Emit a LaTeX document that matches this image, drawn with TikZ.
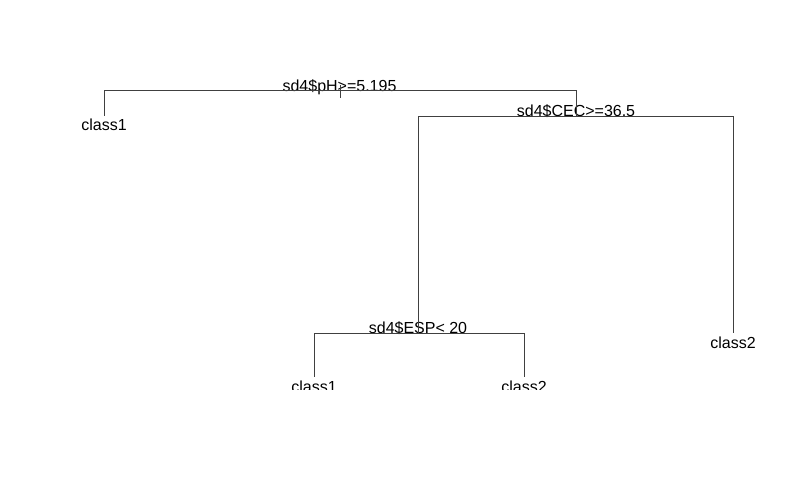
\documentclass[tikz,border=0pt]{standalone}
\usepackage{fontspec}
\setmainfont{Liberation Sans}
\begin{document}
\begin{tikzpicture}[x=1pt,y=-1pt,
  branch/.style={draw=black!75,line width=1pt},
  lbl/.style={anchor=base,inner sep=0pt,font=\fontsize{16}{19}\selectfont,text=black}]
\useasboundingbox (0,0) rectangle (799,487);
\begin{scope}
\clip (0,0) rectangle (799,389.5);
% labels
\node[lbl] (nroot) at (339.5,91) {sd4\$pH>=5.195};
\node[lbl] (ncec) at (576,116) {sd4\$CEC>=36.5};
\node[lbl] (nesp) at (418,333) {sd4\$ESP< 20};
\node[lbl] (l1) at (104,130) {class1};
\node[lbl] (l2) at (733,348) {class2};
\node[lbl] (l3) at (314,392) {class1};
\node[lbl] (l4) at (524,392) {class2};
% split points
\coordinate (rtop) at (340,98);
\coordinate (r) at (340,85);
\coordinate (rl) at (104,90);
\coordinate (rr) at (576,90);
\coordinate (cec) at (576,116);
\coordinate (cl) at (418,116);
\coordinate (cr) at (733,116);
\coordinate (esp) at (418,333);
\coordinate (el) at (314,333);
\coordinate (er) at (524,333);
\coordinate (leafA) at (104,116);
\coordinate (leafB) at (733,333);
\coordinate (leafC) at (314,377);
\coordinate (leafD) at (524,377);
% connectors
\draw[branch] (r) -- (rtop);
\draw[branch] (rl) -- (rr);
\draw[branch] (rl) -- (leafA);
\draw[branch] (rr) -- (cec);
\draw[branch] (cl) -- (cr);
\draw[branch] (cr) -- (leafB);
\draw[branch] (cl) -- (esp);
\draw[branch] (el) -- (er);
\draw[branch] (el) -- (leafC);
\draw[branch] (er) -- (leafD);
\end{scope}
\end{tikzpicture}
\end{document}
